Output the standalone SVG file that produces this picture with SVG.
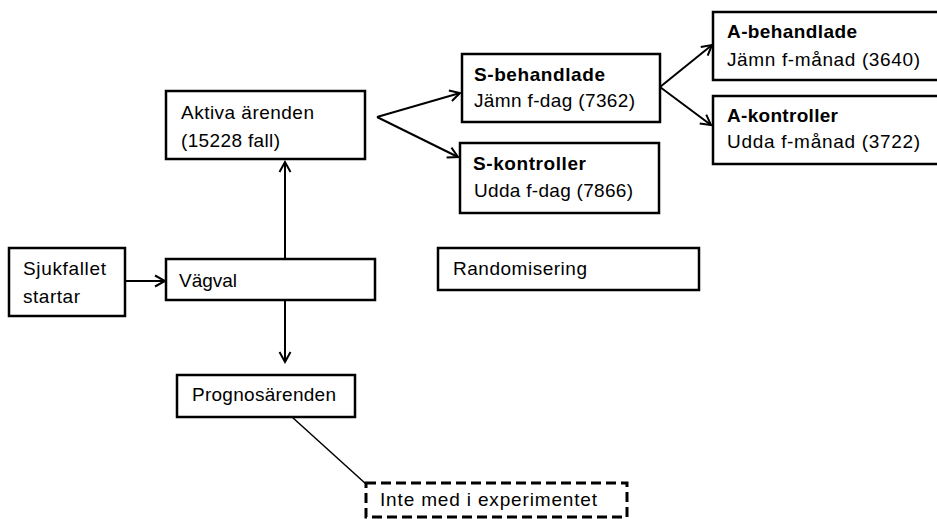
<svg xmlns="http://www.w3.org/2000/svg" width="937" height="519" viewBox="0 0 937 519">
<style>
.box{fill:#fff;stroke:#000;stroke-width:2.5}
.dash{fill:#fff;stroke:#000;stroke-width:3;stroke-dasharray:10 5}
.t{font-family:"Liberation Sans",Arial,sans-serif;font-size:19px;fill:#000}
.b{font-weight:bold}
.c{fill:none;stroke:#000;stroke-width:2}
.thin{fill:none;stroke:#000;stroke-width:1.5}
</style>
<defs>
<marker id="arr" markerUnits="userSpaceOnUse" markerWidth="14" markerHeight="14" refX="11" refY="7" orient="auto" viewBox="0 0 14 14">
<path d="M1,1.5 L11,7 L1,12.5" fill="none" stroke="#000" stroke-width="2"/>
</marker>
</defs>
<rect width="937" height="519" fill="#fff"/>
<g id="connectors">
<line class="c" x1="125" y1="281" x2="165" y2="281" marker-end="url(#arr)"/>
<line class="c" x1="285" y1="259" x2="285" y2="162" marker-end="url(#arr)"/>
<line class="c" x1="285" y1="300" x2="285" y2="362" marker-end="url(#arr)"/>
<line class="c" x1="377" y1="117" x2="460" y2="93" marker-end="url(#arr)"/>
<line class="c" x1="377" y1="117" x2="458" y2="157" marker-end="url(#arr)"/>
<line class="c" x1="660" y1="87" x2="712" y2="45" marker-end="url(#arr)"/>
<line class="c" x1="660" y1="87" x2="711" y2="125" marker-end="url(#arr)"/>
<line class="thin" x1="292" y1="417" x2="366" y2="484"/>
</g>
<g id="sjukfallet">
<rect class="box" x="9" y="248" width="116" height="68"/>
<text class="t" x="23" y="275" textLength="83">Sjukfallet</text>
<text class="t" x="23" y="303" textLength="57">startar</text>
</g>
<g id="vagval">
<rect class="box" x="166" y="259" width="209" height="41"/>
<text class="t" x="179" y="287" textLength="58">Vägval</text>
</g>
<g id="aktiva">
<rect class="box" x="166" y="91" width="199" height="68"/>
<text class="t" x="181" y="119" textLength="133">Aktiva ärenden</text>
<text class="t" x="181" y="147" textLength="99">(15228 fall)</text>
</g>
<g id="s-behandlade">
<rect class="box" x="462" y="54" width="198" height="68"/>
<text class="t b" x="474" y="81" textLength="131">S-behandlade</text>
<text class="t" x="474" y="107" textLength="161">Jämn f-dag (7362)</text>
</g>
<g id="s-kontroller">
<rect class="box" x="460" y="143" width="199" height="70"/>
<text class="t b" x="473" y="170" textLength="113">S-kontroller</text>
<text class="t" x="474" y="197" textLength="159">Udda f-dag (7866)</text>
</g>
<g id="a-behandlade">
<rect class="box" x="713" y="12" width="240" height="68"/>
<text class="t b" x="727" y="38" textLength="130">A-behandlade</text>
<text class="t" x="727" y="66" textLength="193">Jämn f-månad (3640)</text>
</g>
<g id="a-kontroller">
<rect class="box" x="713" y="96" width="240" height="68"/>
<text class="t b" x="727" y="122" textLength="111">A-kontroller</text>
<text class="t" x="727" y="148" textLength="193">Udda f-månad (3722)</text>
</g>
<g id="randomisering">
<rect class="box" x="438" y="248" width="261" height="42"/>
<text class="t" x="453" y="275" textLength="134">Randomisering</text>
</g>
<g id="prognos">
<rect class="box" x="177" y="375" width="178" height="42"/>
<text class="t" x="192" y="401" textLength="144">Prognosärenden</text>
</g>
<g id="inte-med">
<rect class="dash" x="366" y="483" width="261" height="34"/>
<text class="t" x="380" y="506" textLength="217">Inte med i experimentet</text>
</g>
</svg>
